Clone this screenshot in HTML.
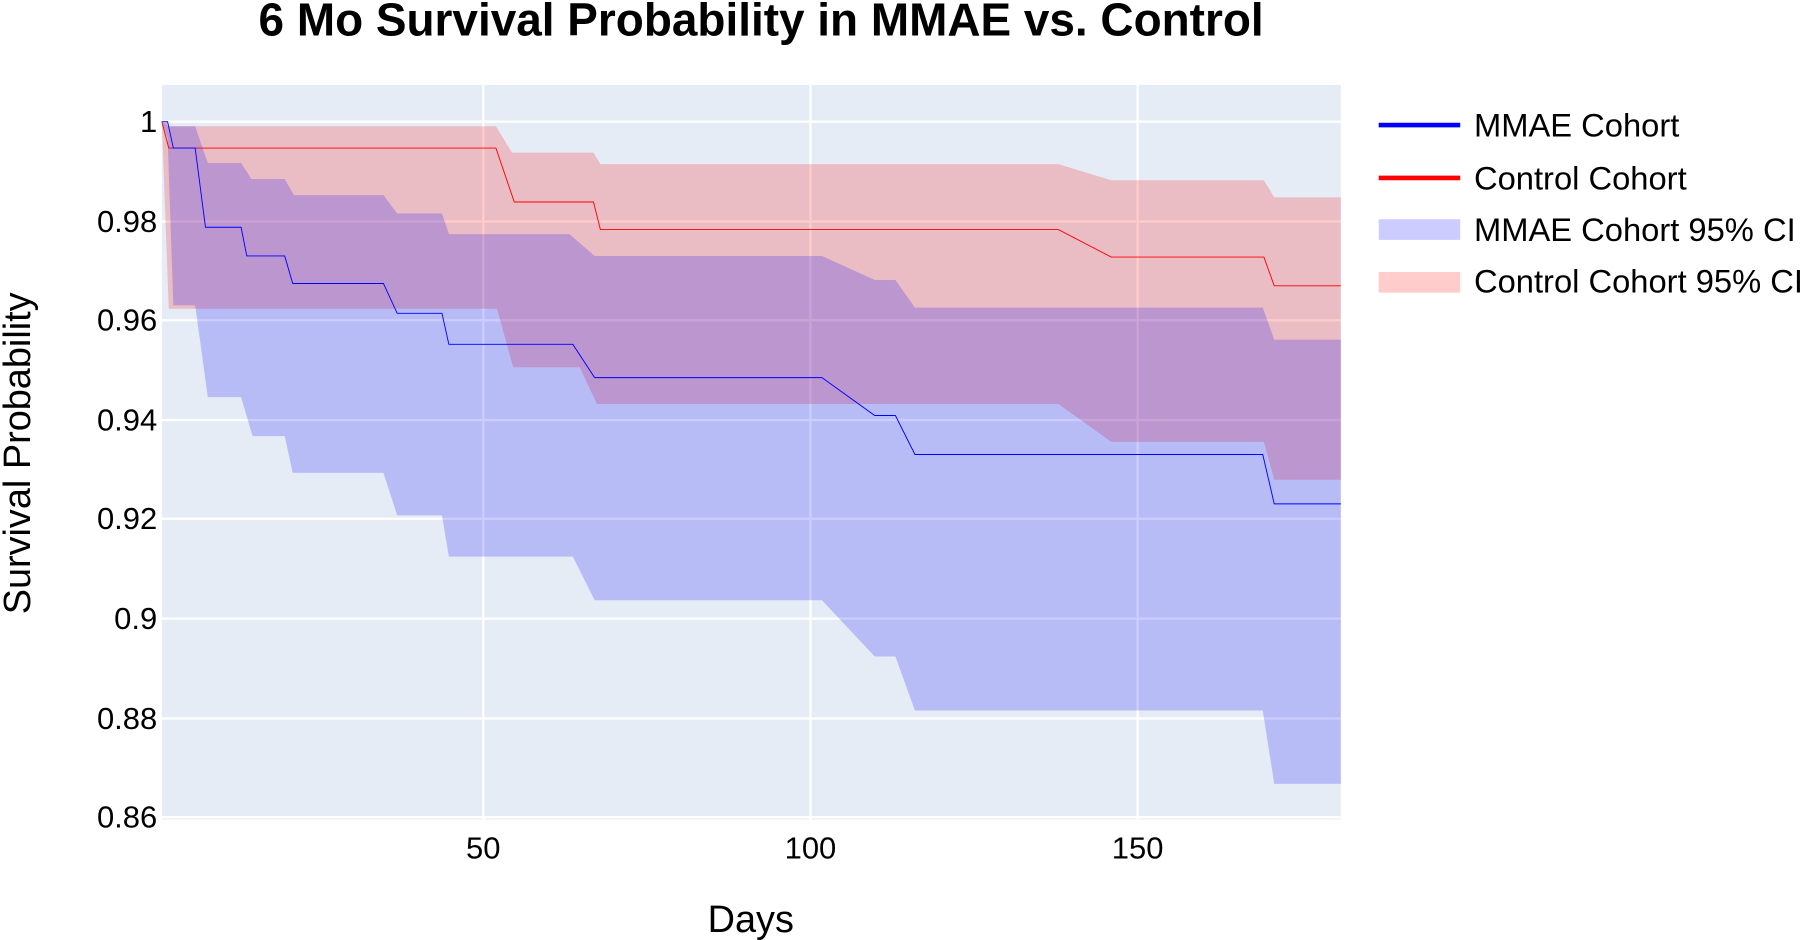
<!DOCTYPE html>
<html><head><meta charset="utf-8"><style>html,body{margin:0;padding:0;background:#fff;overflow:hidden}svg{display:block}</style></head>
<body>
<svg width="1800" height="940" viewBox="0 0 1568 819" preserveAspectRatio="none" xmlns="http://www.w3.org/2000/svg" font-family="Liberation Sans, Arial, sans-serif">
<rect x="0" y="0" width="1568" height="819" fill="#fff"/>
<rect x="141" y="74" width="1027" height="640" fill="#e5ecf6"/>
<g stroke="#fff" stroke-width="2">
<line x1="141" x2="1168" y1="106" y2="106"/><line x1="141" x2="1168" y1="193" y2="193"/>
<line x1="141" x2="1168" y1="279" y2="279"/><line x1="141" x2="1168" y1="366" y2="366"/>
<line x1="141" x2="1168" y1="452" y2="452"/><line x1="141" x2="1168" y1="539" y2="539"/>
<line x1="141" x2="1168" y1="626" y2="626"/><line x1="141" x2="1168" y1="712" y2="712"/>
<line x1="421" x2="421" y1="74" y2="714"/><line x1="706" x2="706" y1="74" y2="714"/><line x1="991" x2="991" y1="74" y2="714"/>
</g>
<polygon fill="rgba(255,0,0,0.2)" points="141,106 147,110 432,110 446,133 517,133 523,143 922,143 968,157 1101,157 1110,172 1168,172 1168,418 1110,418 1101,385 968,385 922,352 520,352 505,320 447,320 433,269 147,269 141,106"/>
<polygon fill="rgba(0,0,255,0.2)" points="141,106 146,106 146,110 170,110 181,142 210,142 219,156 248,156 256,170 334,170 346,186 385,186 391,204 496,204 518,223 716,223 762,244 780,244 797,268 1100,268 1110,296 1168,296 1168,683 1110,683 1100,619 797,619 780,572 762,572 716,523 518,523 499,485 391,485 385,449 346,449 334,412 255,412 248,380 220,380 210,346 181,346 170,266 151,266 146,120 141,106"/>
<polyline fill="none" stroke="#ff0000" stroke-width="0.8" points="141,106 147,129 432,129 448,176 517,176 523,200 922,200 968,224 1101,224 1110,249 1168,249"/>
<polyline fill="none" stroke="#0000ff" stroke-width="0.8" points="141,106 146,106 151,129 170,129 179,198 210,198 215,223 248,223 255,247 334,247 346,273 385,273 391,300 499,300 518,329 716,329 762,362 780,362 797,396 1100,396 1110,439 1168,439"/>
<text x="663" y="31" text-anchor="middle" font-size="40" font-weight="bold" fill="#000">6 Mo Survival Probability in MMAE vs. Control</text>
<g font-size="27" fill="#000" text-anchor="end">
<text x="137" y="115">1</text><text x="137" y="202">0.98</text><text x="137" y="288">0.96</text><text x="137" y="375">0.94</text>
<text x="137" y="461">0.92</text><text x="137" y="548">0.9</text><text x="137" y="635">0.88</text><text x="137" y="721">0.86</text>
</g>
<g font-size="27" fill="#000" text-anchor="middle">
<text x="421" y="748">50</text><text x="706" y="748">100</text><text x="991" y="748">150</text>
</g>
<text x="654" y="812" text-anchor="middle" font-size="33" fill="#000">Days</text>
<text transform="translate(26,395) rotate(-90)" text-anchor="middle" font-size="33" fill="#000">Survival Probability</text>
<g font-size="28.5" fill="#000">
<line x1="1201" x2="1272" y1="109" y2="109" stroke="#0000ff" stroke-width="4"/>
<text x="1284" y="119">MMAE Cohort</text>
<line x1="1201" x2="1272" y1="155" y2="155" stroke="#ff0000" stroke-width="4"/>
<text x="1284" y="165">Control Cohort</text>
<rect x="1201" y="191" width="71" height="18" fill="rgba(0,0,255,0.2)"/>
<text x="1284" y="210">MMAE Cohort 95% CI</text>
<rect x="1201" y="237" width="71" height="18" fill="rgba(255,0,0,0.2)"/>
<text x="1284" y="255">Control Cohort 95% CI</text>
</g>
</svg>
</body></html>
